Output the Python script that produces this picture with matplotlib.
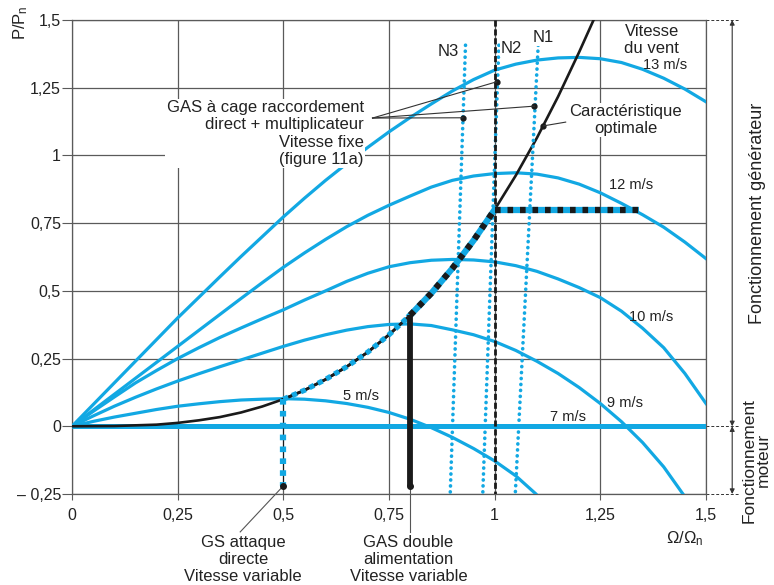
import matplotlib
matplotlib.use("Agg")
import matplotlib.pyplot as plt

plt.rcParams['font.family'] = ['Liberation Sans', 'DejaVu Sans']
plt.rcParams['mathtext.fontset'] = 'custom'
plt.rcParams['mathtext.rm'] = 'Liberation Sans'
plt.rcParams['mathtext.it'] = 'Liberation Sans:italic'

# --- donnees ---
xticks = [0, 0.25, 0.5, 0.75, 1, 1.25, 1.5]
xtick_labels = ["0", "0,25", "0,5", "0,75", "1", "1,25", "1,5"]
yticks = [-0.25, 0, 0.25, 0.5, 0.75, 1, 1.25, 1.5]
ytick_labels = ["\u2013 0,25", "0", "0,25", "0,5", "0,75", "1", "1,25", "1,5"]

# courbes P(Omega) a vitesse de vent constante
v13_x = [0, 0.05, 0.1, 0.15, 0.2, 0.25, 0.3, 0.35, 0.4, 0.45, 0.5, 0.55, 0.6, 0.65, 0.7, 0.75,
         0.8, 0.85, 0.9, 0.95, 1.0, 1.05, 1.1, 1.15, 1.2, 1.25, 1.3, 1.35, 1.4, 1.45, 1.5]
v13_y = [0, 0.08, 0.16, 0.24, 0.32, 0.40, 0.476, 0.552, 0.627, 0.70, 0.773, 0.842, 0.908, 0.97,
         1.03, 1.087, 1.14, 1.19, 1.238, 1.28, 1.315, 1.337, 1.352, 1.36, 1.362, 1.357, 1.343,
         1.318, 1.285, 1.245, 1.198]

v12_x = [0, 0.05, 0.1, 0.15, 0.2, 0.25, 0.3, 0.35, 0.4, 0.45, 0.5, 0.55, 0.6, 0.65, 0.7, 0.75,
         0.8, 0.85, 0.9, 0.95, 1.0, 1.05, 1.1, 1.15, 1.2, 1.25, 1.3, 1.35, 1.4, 1.45, 1.5]
v12_y = [0, 0.059, 0.118, 0.177, 0.236, 0.295, 0.354, 0.413, 0.472, 0.53, 0.587, 0.64, 0.69,
         0.737, 0.779, 0.816, 0.85, 0.883, 0.908, 0.924, 0.933, 0.936, 0.931, 0.917, 0.894,
         0.862, 0.823, 0.781, 0.735, 0.68, 0.619]

v10_x = [0, 0.05, 0.1, 0.15, 0.2, 0.25, 0.3, 0.35, 0.4, 0.45, 0.5, 0.55, 0.6, 0.65, 0.7, 0.75,
         0.8, 0.85, 0.9, 0.95, 1.0, 1.05, 1.1, 1.15, 1.2, 1.25, 1.3, 1.35, 1.4, 1.45, 1.5]
v10_y = [0, 0.055, 0.108, 0.16, 0.206, 0.25, 0.29, 0.328, 0.363, 0.397, 0.43, 0.466, 0.5,
         0.535, 0.565, 0.589, 0.604, 0.613, 0.616, 0.614, 0.607, 0.593, 0.572, 0.544, 0.512,
         0.475, 0.425, 0.362, 0.29, 0.195, 0.084]

v9_x = [0, 0.05, 0.1, 0.15, 0.2, 0.25, 0.3, 0.35, 0.4, 0.45, 0.5, 0.55, 0.6, 0.65, 0.7, 0.75,
        0.8, 0.85, 0.9, 0.95, 1.0, 1.05, 1.1, 1.15, 1.2, 1.25, 1.3, 1.35, 1.4, 1.445]
v9_y = [0, 0.038, 0.074, 0.107, 0.138, 0.167, 0.194, 0.22, 0.245, 0.27, 0.295, 0.318, 0.338,
        0.355, 0.368, 0.376, 0.378, 0.372, 0.356, 0.338, 0.313, 0.28, 0.24, 0.195, 0.143,
        0.084, 0.017, -0.06, -0.15, -0.249]

v5_x = [0, 0.05, 0.1, 0.15, 0.2, 0.25, 0.3, 0.35, 0.4, 0.45, 0.5, 0.55, 0.6, 0.65, 0.7, 0.75,
        0.8, 0.85, 0.9, 0.95, 1.0, 1.05, 1.097]
v5_y = [0, 0.018, 0.034, 0.048, 0.062, 0.074, 0.083, 0.091, 0.097, 0.1, 0.102, 0.1, 0.094,
        0.084, 0.07, 0.051, 0.026, -0.005, -0.041, -0.082, -0.128, -0.183, -0.249]

v7_x = [0, 1.5]
v7_y = [0, 0]

# caracteristique optimale
opt_x = [0, 0.1, 0.2, 0.25, 0.3, 0.35, 0.4, 0.45, 0.5, 0.55, 0.6, 0.65, 0.7, 0.75, 0.8,
         0.85, 0.9, 0.95, 1.0, 1.05, 1.1, 1.15, 1.2, 1.234]
opt_y = [0, 0.001, 0.006, 0.0125, 0.022, 0.034, 0.051, 0.073, 0.10, 0.133, 0.173, 0.22,
         0.274, 0.338, 0.41, 0.491, 0.583, 0.686, 0.80, 0.926, 1.065, 1.217, 1.382, 1.5]

# droites N1, N2, N3 (haut, bas)
n_y = [1.407, -0.243]
n3_x = [0.931, 0.895]
n2_x = [1.010, 0.972]
n1_x = [1.103, 1.049]

p_nom = 0.8          # palier de puissance
p_nom_xend = 1.342
gs_x = 0.5           # GS attaque directe
gas_x = 0.8          # GAS double alimentation
y_bas = -0.22

CYAN = '#12a8e3'
GRID = '#5a5a5a'

fig = plt.figure(figsize=(7.74, 5.85), dpi=100)
ax = fig.add_axes([72 / 774, 91 / 585, 634 / 774, 474 / 585])
ax.set_xlim(0, 1.5)
ax.set_ylim(-0.25, 1.5)

ax.set_xticks(xticks)
ax.set_xticklabels(xtick_labels)
ax.set_yticks(yticks)
ax.set_yticklabels(ytick_labels)
ax.tick_params(axis='both', direction='out', color=GRID, labelsize=11.5, labelcolor='#222222')
ax.tick_params(axis='y', length=7, pad=1)
ax.tick_params(axis='x', length=4, pad=6)
ax.grid(True, color=GRID, lw=0.9)
ax.set_axisbelow(True)
for s in ax.spines.values():
    s.set_color(GRID)
    s.set_linewidth(0.9)

# courbes de vent
for xs, ys in [(v13_x, v13_y), (v12_x, v12_y), (v10_x, v10_y), (v9_x, v9_y), (v5_x, v5_y)]:
    ax.plot(xs, ys, color=CYAN, lw=2.3, zorder=3)
ax.plot(v7_x, v7_y, color=CYAN, lw=3.6, zorder=3, solid_capstyle='butt')

# caracteristique optimale
ax.plot(opt_x, opt_y, color='#1a1a1a', lw=1.9, zorder=4)

# N1 N2 N3
for nx in (n3_x, n2_x, n1_x):
    ax.plot(nx, n_y, color=CYAN, lw=2.6, dashes=(0.05, 1.6), dash_capstyle='round', zorder=4)
ax.plot([1, 1], [1.5, -0.25], color='#1a1a1a', lw=2, dashes=(2.2, 1.0), zorder=5)

i05 = opt_x.index(0.5)
i08 = opt_x.index(0.8)
i10 = opt_x.index(1.0)
# portion 0.5 -> 0.8 (GS)
ax.plot(opt_x[i05:i08 + 1], opt_y[i05:i08 + 1], color='#1a1a1a', lw=2, zorder=5)
ax.plot(opt_x[i05:i08 + 1], opt_y[i05:i08 + 1], color=CYAN, lw=3.8, dashes=(1, 0.8), zorder=6)
# portion 0.8 -> 1.0 (GAS)
ax.plot(opt_x[i08:i10 + 1], opt_y[i08:i10 + 1], color=CYAN, lw=4.5, zorder=6)
ax.plot(opt_x[i08:i10 + 1], opt_y[i08:i10 + 1], color='#1a1a1a', lw=4.5, dashes=(0.9, 1.1), zorder=7)
# palier P = 0.8
ax.plot([1.0, p_nom_xend], [p_nom, p_nom], color=CYAN, lw=4.5, solid_capstyle='butt', zorder=6)
ax.plot([1.0, p_nom_xend], [p_nom, p_nom], color='#1a1a1a', lw=4.5, dashes=(0.9, 1.1), zorder=7)

# verticales
ax.plot([gs_x, gs_x], [0.1, y_bas], color='#1a1a1a', lw=0.8, zorder=5)
ax.plot([gs_x, gs_x], [0.1, y_bas], color=CYAN, lw=4.5, dashes=(0.9, 1.0), zorder=6)
ax.plot([gas_x, gas_x], [0.41, y_bas], color='#1a1a1a', lw=4.2, solid_capstyle='butt', zorder=6)
ax.plot([gs_x, gas_x], [y_bas, y_bas], 'o', color='#1a1a1a', ms=4, zorder=8)

# points d'annotation
dots_x = [1.005, 1.094, 0.925, 1.115]
dots_y = [1.272, 1.182, 1.139, 1.109]
ax.plot(dots_x, dots_y, 'o', color='#1a1a1a', ms=3.5, zorder=8)
for dx, dy in zip(dots_x[:3], dots_y[:3]):
    ax.plot([0.711, dx], [1.138, dy], color='#333333', lw=0.8, zorder=8)
ax.plot([1.168, dots_x[3]], [1.123, dots_y[3]], color='#333333', lw=0.8, zorder=8)

box = dict(facecolor='white', edgecolor='none', pad=1.0)
kw = dict(color='#222222', zorder=9)

ax.text(0.690, 1.205, "GAS \u00e0 cage raccordement\ndirect + multiplicateur\nVitesse fixe\n(figure 11a)",
        ha='right', va='top', fontsize=12, linespacing=1.2, bbox=box, **kw)
ax.text(1.31, 1.19, "Caract\u00e9ristique\noptimale", ha='center', va='top', fontsize=12,
        linespacing=1.15, bbox=box, **kw)
ax.text(1.372, 1.485, "Vitesse\ndu vent", ha='center', va='top', fontsize=12, linespacing=1.15, bbox=box, **kw)

ax.text(1.403, 1.334, "13 m/s", ha='center', va='center', fontsize=10.5, **kw)
ax.text(1.322, 0.892, "12 m/s", ha='center', va='center', fontsize=10.5, **kw)
ax.text(1.371, 0.404, "10 m/s", ha='center', va='center', fontsize=10.5, **kw)
ax.text(1.308, 0.087, "9 m/s", ha='center', va='center', fontsize=10.5, **kw)
ax.text(1.173, 0.033, "7 m/s", ha='center', va='center', fontsize=10.5, **kw)
ax.text(0.684, 0.111, "5 m/s", ha='center', va='center', fontsize=10.5, **kw)

ax.text(0.889, 1.382, "N3", ha='center', va='center', fontsize=12, bbox=box, **kw)
ax.text(1.040, 1.396, "N2", ha='center', va='center', fontsize=12, bbox=box, **kw)
ax.text(1.115, 1.437, "N1", ha='center', va='center', fontsize=12, bbox=box, **kw)

# textes sous l'axe
ax.plot([gs_x, 0.398], [y_bas, -0.39], color='#555555', lw=0.8, clip_on=False)
ax.plot([gas_x, gas_x], [y_bas, -0.39], color='#555555', lw=0.8, clip_on=False)
ax.text(0.405, -0.4, "GS attaque\ndirecte\nVitesse variable", ha='center', va='top',
        fontsize=12, linespacing=1.2, clip_on=False, **kw)
ax.text(0.796, -0.4, "GAS double\nalimentation\nVitesse variable", ha='center', va='top',
        fontsize=12, linespacing=1.2, clip_on=False, **kw)

ax.text(1.45, -0.415, "$\\mathit{Ω}/\\mathit{Ω}_\\mathrm{n}$", ha='center', va='center', fontsize=12, **kw)
ax.text(-0.122, 1.49, "P/P$_\\mathrm{n}$", ha='center', va='center', rotation=90, fontsize=12, **kw)

# cote droite : generateur / moteur
for yy in (1.5, 0, -0.25):
    ax.plot([1.5, 1.578], [yy, yy], color='#333333', lw=0.7, ls=(0, (3, 2)), clip_on=False)
arrow = dict(arrowstyle='<|-|>', color='#333333', lw=0.8, mutation_scale=7, shrinkA=0, shrinkB=0)
ax.annotate('', xy=(1.562, 1.5), xytext=(1.562, 0), arrowprops=arrow, annotation_clip=False)
ax.annotate('', xy=(1.562, 0), xytext=(1.562, -0.25), arrowprops=arrow, annotation_clip=False)
ax.text(1.623, 0.787, "Fonctionnement g\u00e9n\u00e9rateur", rotation=90, ha='center', va='center',
        fontsize=13, clip_on=False, **kw)
ax.text(1.618, -0.126, "Fonctionnement\nmoteur", rotation=90, ha='center', va='center',
        fontsize=12.5, linespacing=0.95, clip_on=False, **kw)

fig.savefig("out.png", dpi=100)
